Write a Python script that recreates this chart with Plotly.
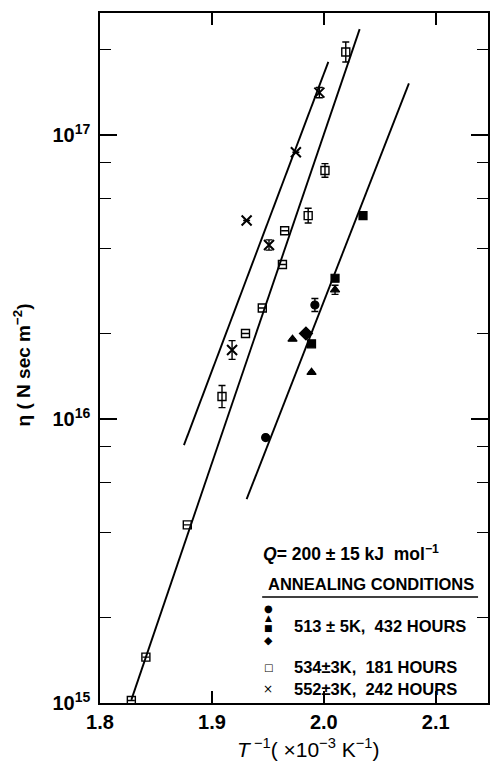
import plotly.graph_objects as go
import numpy as np

# ---- data (x in 1e-3 K^-1, eta in N s m^-2) ----
# 513 K, 432 h (filled symbols)
circ_x = [1.948, 1.992]
circ_y = [8.6e15, 2.52e16]
circ_err = [0.0, 0.023]          # log10 half-width of error bar
tri_x = [1.972, 1.989, 2.010]
tri_y = [1.91e16, 1.46e16, 2.85e16]
tri_err = [0.0, 0.0, 0.016]
sqf_x = [1.989, 2.010, 2.035]
sqf_y = [1.84e16, 3.13e16, 5.2e16]
dia_x = [1.984]
dia_y = [2.0e16]

# 534 K, 181 h (open squares)
sqo_x = [1.828, 1.841, 1.878, 1.909, 1.930, 1.945, 1.963, 1.965, 1.986, 2.001, 2.0196]
sqo_y = [1.02e15, 1.45e15, 4.24e15, 1.2e16, 2.0e16, 2.46e16, 3.5e16, 4.6e16, 5.2e16, 7.5e16, 1.96e17]
sqo_err = [0, 0, 0, 0.039, 0, 0, 0, 0, 0.026, 0.024, 0.035]

# 552 K, 242 h (crosses)
crs_x = [1.918, 1.931, 1.951, 1.975, 1.996]
crs_y = [1.75e16, 5.0e16, 4.1e16, 8.7e16, 1.41e17]
crs_err = [0.033, 0, 0.018, 0, 0.018]

# fitted lines (end points)
fit552_x = [1.875, 2.004]
fit552_y = [8.09e15, 1.81e17]
fit534_x = [1.828, 2.032]
fit534_y = [1.026e15, 2.36e17]
fit513_x = [1.931, 2.076]
fit513_y = [5.22e15, 1.52e17]

x_ticks = [1.8, 1.9, 2.0, 2.1]
x_ticktext = ["1.8", "1.9", "2.0", "2.1"]
y_ticks = [1e15, 1e16, 1e17]
y_ticktext = ["10<sup>15</sup>", "10<sup>16</sup>", "10<sup>17</sup>"]
y_minor = [m * 10.0 ** e for e in (15, 16, 17) for m in (2, 4, 6, 8)]

FONT = "Liberation Sans"
BLACK = "black"


def err_arrays(y, e):
    y = np.array(y, dtype=float)
    e = np.array(e, dtype=float)
    up = y * (10 ** e - 1)
    dn = y * (1 - 10 ** (-e))
    return up, dn


fig = go.Figure()

for fx, fy in [(fit552_x, fit552_y), (fit534_x, fit534_y), (fit513_x, fit513_y)]:
    fig.add_trace(go.Scatter(x=fx, y=fy, mode="lines",
                             line=dict(color=BLACK, width=1.9), hoverinfo="skip"))


def add_pts(x, y, err, symbol, size, lw=1.2):
    kw = {}
    if err is not None:
        up, dn = err_arrays(y, err)
        kw["error_y"] = dict(type="data", symmetric=False, array=up, arrayminus=dn,
                             color=BLACK, thickness=1.4, width=3.5)
    fig.add_trace(go.Scatter(x=x, y=y, mode="markers",
                             marker=dict(symbol=symbol, size=size, color=BLACK,
                                         line=dict(color=BLACK, width=lw)),
                             **kw))


add_pts(circ_x, circ_y, circ_err, "circle", 8)
add_pts(tri_x, tri_y, tri_err, "triangle-up", 8)
add_pts(sqf_x, sqf_y, None, "square", 8)
add_pts(dia_x, dia_y, None, "diamond", 10)
fig.add_trace(go.Scatter(
    x=sqo_x, y=sqo_y, mode="markers",
    marker=dict(symbol="square-open", size=8, color=BLACK, line=dict(color=BLACK, width=1.4)),
    error_y=dict(type="data", symmetric=False,
                 array=err_arrays(sqo_y, sqo_err)[0], arrayminus=err_arrays(sqo_y, sqo_err)[1],
                 color=BLACK, thickness=1.4, width=3.5)))
fig.add_trace(go.Scatter(
    x=crs_x, y=crs_y, mode="markers",
    marker=dict(symbol="x-thin-open", size=10, color=BLACK, line=dict(color=BLACK, width=2)),
    error_y=dict(type="data", symmetric=False,
                 array=err_arrays(crs_y, crs_err)[0], arrayminus=err_arrays(crs_y, crs_err)[1],
                 color=BLACK, thickness=1.4, width=3.5)))

x0, x1 = 1.8, 1.8 + 390 / 1125
y0, y1 = 15.0, 15.0 + 690 / 284

fig.update_layout(
    width=493, height=762,
    margin=dict(l=100, r=3, t=13, b=59),
    paper_bgcolor="white", plot_bgcolor="white",
    showlegend=False,
    font=dict(family=FONT, color=BLACK),
    xaxis=dict(range=[x0, x1], showgrid=False, zeroline=False,
               showline=True, linecolor=BLACK, linewidth=1.5, mirror="allticks",
               ticks="inside", ticklen=12, tickwidth=1.5, tickcolor=BLACK,
               tickmode="array", tickvals=x_ticks, ticktext=x_ticktext,
               tickfont=dict(size=20, family=FONT, weight="bold")),
    yaxis=dict(type="log", range=[y0, y1], showgrid=False, zeroline=False,
               showline=True, linecolor=BLACK, linewidth=1.5, mirror="allticks",
               ticks="inside", ticklen=17, tickwidth=1.5, tickcolor=BLACK,
               tickmode="array", tickvals=y_ticks, ticktext=y_ticktext,
               tickfont=dict(size=20, family=FONT, weight="bold"), ticklabelstandoff=4,
               minor=dict(tickmode="array", tickvals=y_minor, ticks="inside",
                          ticklen=11, tickwidth=1.3, tickcolor=BLACK, showgrid=False)),
)

ann = []
ann.append(dict(x=22, y=365, text="<b>η ( N sec m<sup>−2</sup>)</b>",
                textangle=-90, showarrow=False,
                font=dict(size=19, family=FONT, color=BLACK)))
ann.append(dict(x=309, y=748, text="<i>T</i><sup> −1</sup>( ×10<sup>−3</sup> K<sup>−1</sup>)",
                showarrow=False, font=dict(size=21, family=FONT, color=BLACK)))
ann.append(dict(x=262, y=553, text="<b><i>Q</i>= 200 ± 15 kJ  mol<sup>−1</sup></b>",
                xanchor="left",
                showarrow=False, font=dict(size=17.5, family=FONT, color=BLACK)))
ann.append(dict(x=372, y=584, text="<b>ANNEALING CONDITIONS</b>",
                showarrow=False, font=dict(size=16.5, family=FONT, color=BLACK)))
for gy, g, sz in [(608, "●", 10), (618, "▲", 9), (628, "■", 9), (640, "◆", 11),
                  (667, "□", 10), (689, "×", 12)]:
    ann.append(dict(x=269, y=gy, text=g, showarrow=False,
                    font=dict(size=sz, family="DejaVu Sans", color=BLACK)))
for ty, t in [(626, "513 ± 5K,  432 HOURS"), (667, "534±3K,  181 HOURS"),
              (689, "552±3K,  242 HOURS")]:
    ann.append(dict(x=293, y=ty, text="<b>" + t + "</b>", showarrow=False, xanchor="left",
                    font=dict(size=16.5, family=FONT, color=BLACK)))

# convert pixel positions of annotations into paper coords
W, H = 493, 762
L, R, T, B = 100, 3, 13, 59
pw, ph = W - L - R, H - T - B
for a in ann:
    px, py = a["x"], a["y"]
    a["x"] = (px - L) / pw
    a["y"] = 1 - (py - T) / ph
    a["xref"] = "paper"
    a["yref"] = "paper"
    a.setdefault("xanchor", "center")
    a["yanchor"] = "middle"
fig.update_layout(annotations=ann)

fig.add_shape(type="line", xref="paper", yref="paper",
              x0=(263 - L) / pw, x1=(480 - L) / pw,
              y0=1 - (597 - T) / ph, y1=1 - (597 - T) / ph,
              line=dict(color=BLACK, width=1.5))

fig.write_html("out.html")
